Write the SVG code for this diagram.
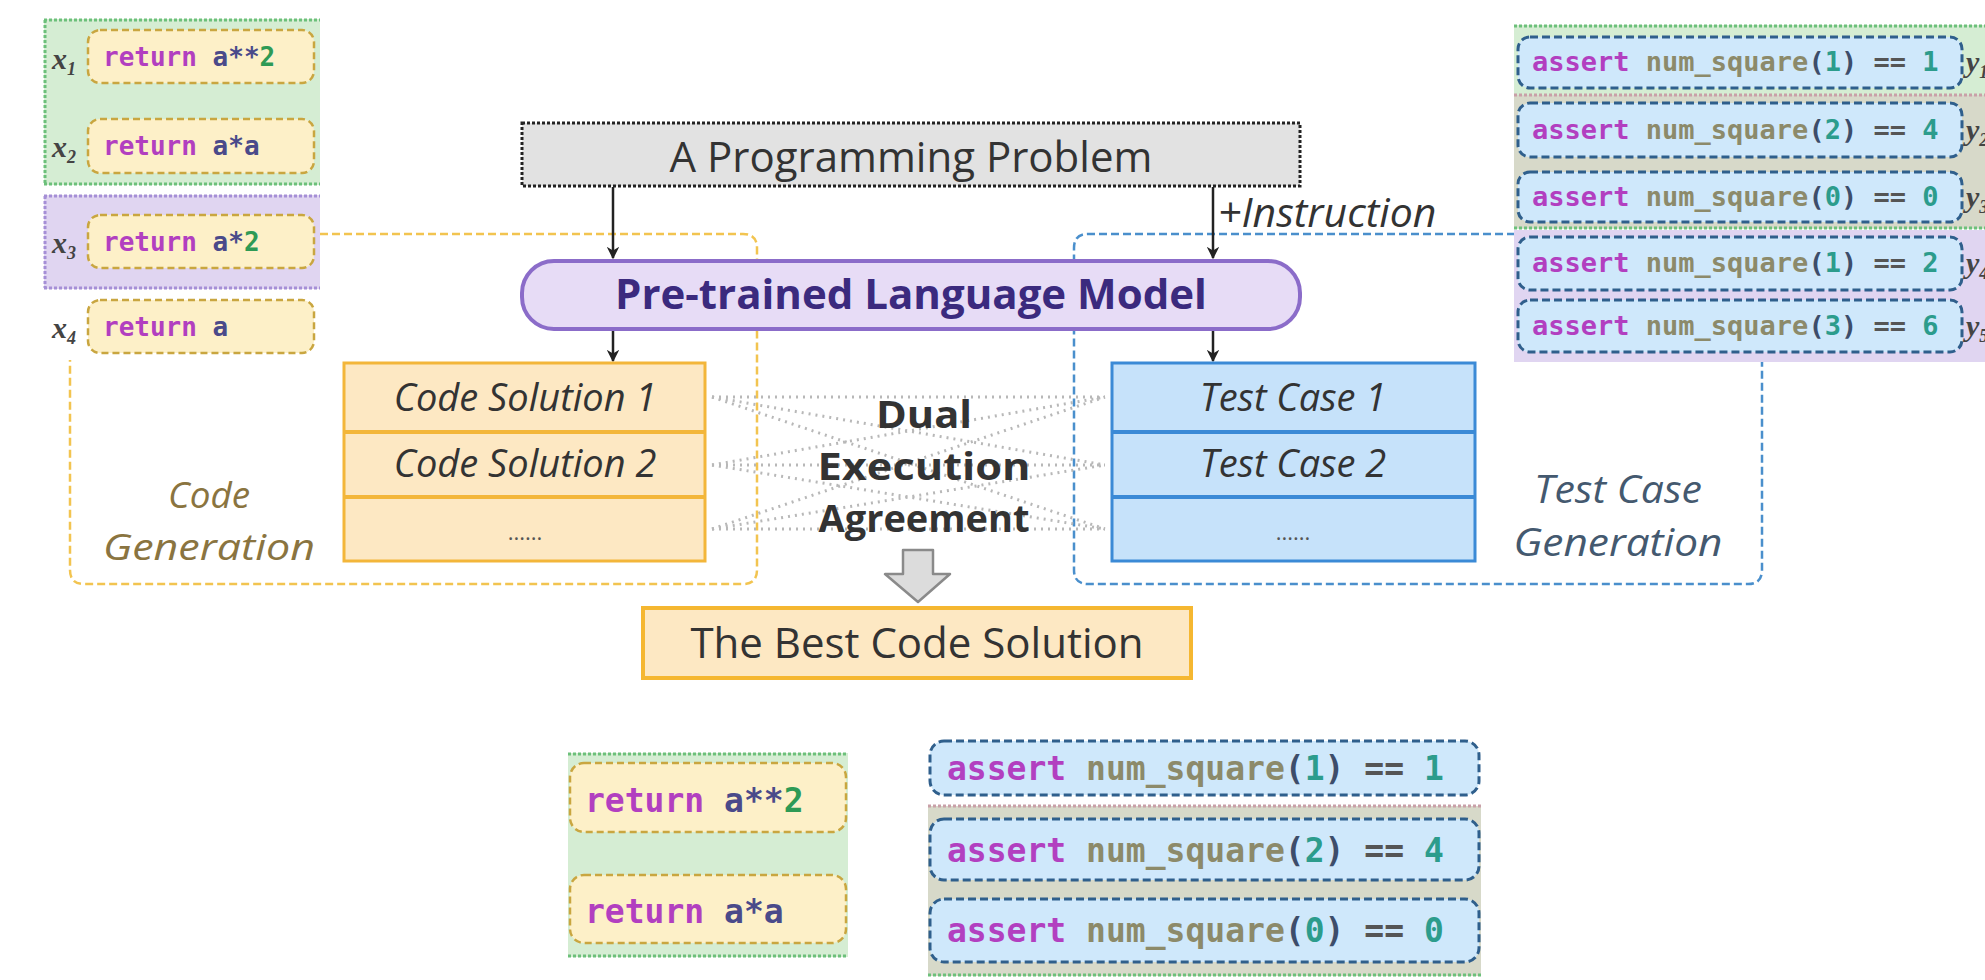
<svg xmlns="http://www.w3.org/2000/svg" width="1985" height="980" viewBox="0 0 1985 980">
<defs>
<marker id="ah" viewBox="0 0 10 10" refX="9" refY="5" markerWidth="5" markerHeight="5" orient="auto" markerUnits="strokeWidth">
<path d="M0,0 L10,5 L0,10 L3,5 Z" fill="#222"/>
</marker>
<style>
.ui{font-family:"Open Sans","Noto Sans","Liberation Sans",sans-serif;}
.mono{font-family:"DejaVu Sans Mono","Liberation Mono",monospace;font-weight:bold;}
.ysnip{fill:#fdf0c8;stroke:#c9a640;stroke-width:2.5;stroke-dasharray:7 4;}
.bsnip{fill:#cfe8fb;stroke:#2f5f8c;stroke-width:3;stroke-dasharray:8 4;}
.gpanel{fill:#d5edd3;}
.ppanel{fill:#e0d5f1;}
.gray{fill:#d7d9c9;}
.gdot{stroke:#6cc07a;stroke-width:3;stroke-dasharray:3 2;fill:none;}
.pdot{stroke:#a58fd6;stroke-width:3;stroke-dasharray:3 2;fill:none;}
.rdot{stroke:#c9a0a8;stroke-width:3;stroke-dasharray:3 2;fill:none;}
.kw{fill:#b23fc0;}
.var{fill:#4a4a8a;}
.num{fill:#2e9a55;}
.fn{fill:#8c8a6a;}
.par{fill:#3d4d6a;}
.tnum{fill:#2c9c8c;}
.op{fill:#555;}
.xl{font-family:"Liberation Serif","DejaVu Serif",serif;font-style:italic;font-weight:bold;fill:#444;}
.arrow{stroke:#222;stroke-width:2.5;fill:none;marker-end:url(#ah);}
.dots{stroke:#b8b8b8;stroke-width:3;stroke-dasharray:2 5;fill:none;}
.it{font-style:italic;}
</style>
</defs>
<rect width="1985" height="980" fill="#ffffff"/>

<!-- group outlines -->
<g id="code-generation">
<path d="M320,234 H743 Q757,234 757,248 V570 Q757,584 743,584 H84 Q70,584 70,570 V360" fill="none" stroke="#f2c450" stroke-width="2.5" stroke-dasharray="8 4"/>
<text class="ui it" x="209" y="508" font-size="37" fill="#8a7440" text-anchor="middle" textLength="82" lengthAdjust="spacingAndGlyphs">Code</text>
<text class="ui it" x="209" y="560" font-size="37" fill="#8a7440" text-anchor="middle" textLength="212" lengthAdjust="spacingAndGlyphs">Generation</text>
</g>
<g id="test-case-generation">
<path d="M1515,234 H1088 Q1074,234 1074,248 V570 Q1074,584 1088,584 H1748 Q1762,584 1762,570 V362" fill="none" stroke="#4a8fcc" stroke-width="2.5" stroke-dasharray="8 4"/>
<text class="ui it" x="1618" y="503" font-size="38" fill="#44596f" text-anchor="middle" textLength="168" lengthAdjust="spacingAndGlyphs">Test Case</text>
<text class="ui it" x="1618" y="556" font-size="38" fill="#44596f" text-anchor="middle" textLength="209" lengthAdjust="spacingAndGlyphs">Generation</text>
</g>

<!-- top-left code samples -->
<g id="code-samples-top">
<rect class="gpanel" x="44" y="19" width="276" height="166"/>
<line class="gdot" x1="44" y1="20" x2="320" y2="20"/>
<line class="gdot" x1="44" y1="184" x2="320" y2="184"/>
<line class="gdot" x1="45" y1="20" x2="45" y2="184"/>
<rect class="ppanel" x="44" y="195" width="276" height="94"/>
<line class="pdot" x1="44" y1="196" x2="320" y2="196"/>
<line class="pdot" x1="44" y1="288" x2="320" y2="288"/>
<line class="pdot" x1="45" y1="196" x2="45" y2="288"/>
<rect class="ysnip" x="88" y="30" width="226" height="53" rx="12"/>
<rect class="ysnip" x="88" y="119" width="226" height="54" rx="12"/>
<rect class="ysnip" x="88" y="215" width="226" height="53" rx="12"/>
<rect class="ysnip" x="88" y="300" width="226" height="53" rx="12"/>
<text class="xl" x="52" y="69" font-size="30">x<tspan font-size="18" dy="6">1</tspan></text>
<text class="xl" x="52" y="157" font-size="30">x<tspan font-size="18" dy="6">2</tspan></text>
<text class="xl" x="52" y="253" font-size="30">x<tspan font-size="18" dy="6">3</tspan></text>
<text class="xl" x="52" y="338" font-size="30">x<tspan font-size="18" dy="6">4</tspan></text>
<text class="mono" x="103" y="66" font-size="26"><tspan class="kw">return</tspan> <tspan class="var">a**</tspan><tspan class="num">2</tspan></text>
<text class="mono" x="103" y="155" font-size="26"><tspan class="kw">return</tspan> <tspan class="var">a*a</tspan></text>
<text class="mono" x="103" y="251" font-size="26"><tspan class="kw">return</tspan> <tspan class="var">a*</tspan><tspan class="num">2</tspan></text>
<text class="mono" x="103" y="336" font-size="26"><tspan class="kw">return</tspan> <tspan class="var">a</tspan></text>
</g>

<!-- top-right test samples -->
<g id="test-samples-top">
<rect class="gpanel" x="1514" y="25" width="471" height="204"/>
<rect class="gray" x="1514" y="95" width="471" height="133"/>
<line class="gdot" x1="1514" y1="26" x2="1985" y2="26"/>
<line class="rdot" x1="1514" y1="95" x2="1985" y2="95"/>
<line class="gdot" x1="1514" y1="228" x2="1985" y2="228"/>
<rect class="ppanel" x="1514" y="230" width="471" height="132"/>
<rect class="bsnip" x="1518" y="37" width="444" height="51" rx="12"/>
<rect class="bsnip" x="1518" y="103" width="444" height="54" rx="12"/>
<rect class="bsnip" x="1518" y="172" width="444" height="50" rx="12"/>
<rect class="bsnip" x="1518" y="237" width="444" height="53" rx="12"/>
<rect class="bsnip" x="1518" y="300" width="444" height="52" rx="12"/>
<text class="mono" x="1532" y="71" font-size="27"><tspan class="kw">assert</tspan> <tspan class="fn">num_square</tspan><tspan class="par">(</tspan><tspan class="tnum">1</tspan><tspan class="par">)</tspan> <tspan class="op">==</tspan> <tspan class="tnum">1</tspan></text>
<text class="mono" x="1532" y="139" font-size="27"><tspan class="kw">assert</tspan> <tspan class="fn">num_square</tspan><tspan class="par">(</tspan><tspan class="tnum">2</tspan><tspan class="par">)</tspan> <tspan class="op">==</tspan> <tspan class="tnum">4</tspan></text>
<text class="mono" x="1532" y="206" font-size="27"><tspan class="kw">assert</tspan> <tspan class="fn">num_square</tspan><tspan class="par">(</tspan><tspan class="tnum">0</tspan><tspan class="par">)</tspan> <tspan class="op">==</tspan> <tspan class="tnum">0</tspan></text>
<text class="mono" x="1532" y="272" font-size="27"><tspan class="kw">assert</tspan> <tspan class="fn">num_square</tspan><tspan class="par">(</tspan><tspan class="tnum">1</tspan><tspan class="par">)</tspan> <tspan class="op">==</tspan> <tspan class="tnum">2</tspan></text>
<text class="mono" x="1532" y="335" font-size="27"><tspan class="kw">assert</tspan> <tspan class="fn">num_square</tspan><tspan class="par">(</tspan><tspan class="tnum">3</tspan><tspan class="par">)</tspan> <tspan class="op">==</tspan> <tspan class="tnum">6</tspan></text>
<text class="xl" x="1966" y="72" font-size="30">y<tspan font-size="18" dy="6">1</tspan></text>
<text class="xl" x="1966" y="140" font-size="30">y<tspan font-size="18" dy="6">2</tspan></text>
<text class="xl" x="1966" y="207" font-size="30">y<tspan font-size="18" dy="6">3</tspan></text>
<text class="xl" x="1966" y="273" font-size="30">y<tspan font-size="18" dy="6">4</tspan></text>
<text class="xl" x="1966" y="336" font-size="30">y<tspan font-size="18" dy="6">5</tspan></text>
</g>

<!-- connectors -->
<g id="connectors">
<line class="dots" x1="712" y1="397" x2="1105" y2="397"/>
<line class="dots" x1="712" y1="397" x2="1105" y2="465"/>
<line class="dots" x1="712" y1="397" x2="1105" y2="529"/>
<line class="dots" x1="712" y1="465" x2="1105" y2="397"/>
<line class="dots" x1="712" y1="465" x2="1105" y2="465"/>
<line class="dots" x1="712" y1="465" x2="1105" y2="529"/>
<line class="dots" x1="712" y1="529" x2="1105" y2="397"/>
<line class="dots" x1="712" y1="529" x2="1105" y2="465"/>
<line class="dots" x1="712" y1="529" x2="1105" y2="529"/>
<line class="arrow" x1="613" y1="187" x2="613" y2="258"/>
<line class="arrow" x1="1213" y1="187" x2="1213" y2="258"/>
<line class="arrow" x1="613" y1="331" x2="613" y2="361"/>
<line class="arrow" x1="1213" y1="331" x2="1213" y2="361"/>
<text class="ui it" x="1218" y="227" font-size="41" fill="#333">+Instruction</text>
<path d="M903,550 H933 V574 H950 L918,602 L885,574 H903 Z" fill="#dcdcdc" stroke="#8a8a8a" stroke-width="2.5" stroke-linejoin="round"/>
</g>

<g id="problem">
<rect x="522" y="123" width="778" height="63" fill="#e2e2e2" stroke="#222" stroke-width="3" stroke-dasharray="3 2"/>
<text class="ui" x="911" y="172" font-size="42" fill="#333" text-anchor="middle">A Programming Problem</text>
</g>

<g id="language-model">
<rect x="522" y="261" width="778" height="68" rx="32" fill="#e7dcf6" stroke="#8b6cc9" stroke-width="4"/>
<text class="ui" x="911" y="309" font-size="42" font-weight="bold" fill="#3b2a7e" text-anchor="middle">Pre-trained Language Model</text>
</g>

<g id="code-solutions">
<rect x="344" y="363" width="361" height="198" fill="#fde8c3" stroke="#f3b63a" stroke-width="3"/>
<line x1="344" y1="432" x2="705" y2="432" stroke="#f3b63a" stroke-width="4"/>
<line x1="344" y1="497" x2="705" y2="497" stroke="#f3b63a" stroke-width="4"/>
<text class="ui it" x="525" y="411" font-size="38" fill="#333" text-anchor="middle">Code Solution 1</text>
<text class="ui it" x="525" y="477" font-size="38" fill="#333" text-anchor="middle">Code Solution 2</text>
<text class="ui" x="525" y="540" font-size="22" fill="#555" text-anchor="middle">......</text>
</g>

<g id="test-cases">
<rect x="1112" y="363" width="363" height="198" fill="#c6e2fa" stroke="#3b8ad6" stroke-width="3"/>
<line x1="1112" y1="432" x2="1475" y2="432" stroke="#3b8ad6" stroke-width="4"/>
<line x1="1112" y1="497" x2="1475" y2="497" stroke="#3b8ad6" stroke-width="4"/>
<text class="ui it" x="1293" y="411" font-size="38" fill="#333" text-anchor="middle">Test Case 1</text>
<text class="ui it" x="1293" y="477" font-size="38" fill="#333" text-anchor="middle">Test Case 2</text>
<text class="ui" x="1293" y="540" font-size="22" fill="#555" text-anchor="middle">......</text>
</g>

<g id="dual-execution">
<text class="ui" x="924" y="428" font-size="37" font-weight="bold" fill="#333" text-anchor="middle" textLength="96" lengthAdjust="spacingAndGlyphs">Dual</text>
<text class="ui" x="924" y="480" font-size="37" font-weight="bold" fill="#333" text-anchor="middle" textLength="213" lengthAdjust="spacingAndGlyphs">Execution</text>
<text class="ui" x="924" y="532" font-size="37" font-weight="bold" fill="#333" text-anchor="middle" textLength="211" lengthAdjust="spacingAndGlyphs">Agreement</text>
</g>

<g id="best-solution">
<rect x="643" y="608" width="548" height="70" fill="#fde8c3" stroke="#f5b731" stroke-width="4"/>
<text class="ui" x="917" y="658" font-size="42" fill="#333" text-anchor="middle">The Best Code Solution</text>
</g>

<g id="code-samples-bottom">
<rect class="gpanel" x="568" y="753" width="280" height="204"/>
<line class="gdot" x1="568" y1="754" x2="848" y2="754"/>
<line class="gdot" x1="568" y1="956" x2="848" y2="956"/>
<rect class="ysnip" x="570" y="763" width="276" height="69" rx="14"/>
<rect class="ysnip" x="570" y="875" width="276" height="68" rx="14"/>
<text class="mono" x="585" y="812" font-size="33"><tspan class="kw">return</tspan> <tspan class="var">a**</tspan><tspan class="num">2</tspan></text>
<text class="mono" x="585" y="923" font-size="33"><tspan class="kw">return</tspan> <tspan class="var">a*a</tspan></text>
</g>

<g id="test-samples-bottom">
<rect class="gray" x="928" y="806" width="553" height="170"/>
<line class="rdot" x1="928" y1="806" x2="1481" y2="806"/>
<line class="gdot" x1="928" y1="975" x2="1481" y2="975"/>
<rect class="bsnip" x="930" y="741" width="549" height="54" rx="14"/>
<rect class="bsnip" x="930" y="819" width="549" height="61" rx="14"/>
<rect class="bsnip" x="930" y="899" width="549" height="63" rx="14"/>
<text class="mono" x="947" y="780" font-size="33"><tspan class="kw">assert</tspan> <tspan class="fn">num_square</tspan><tspan class="par">(</tspan><tspan class="tnum">1</tspan><tspan class="par">)</tspan> <tspan class="op">==</tspan> <tspan class="tnum">1</tspan></text>
<text class="mono" x="947" y="862" font-size="33"><tspan class="kw">assert</tspan> <tspan class="fn">num_square</tspan><tspan class="par">(</tspan><tspan class="tnum">2</tspan><tspan class="par">)</tspan> <tspan class="op">==</tspan> <tspan class="tnum">4</tspan></text>
<text class="mono" x="947" y="942" font-size="33"><tspan class="kw">assert</tspan> <tspan class="fn">num_square</tspan><tspan class="par">(</tspan><tspan class="tnum">0</tspan><tspan class="par">)</tspan> <tspan class="op">==</tspan> <tspan class="tnum">0</tspan></text>
</g>
</svg>
